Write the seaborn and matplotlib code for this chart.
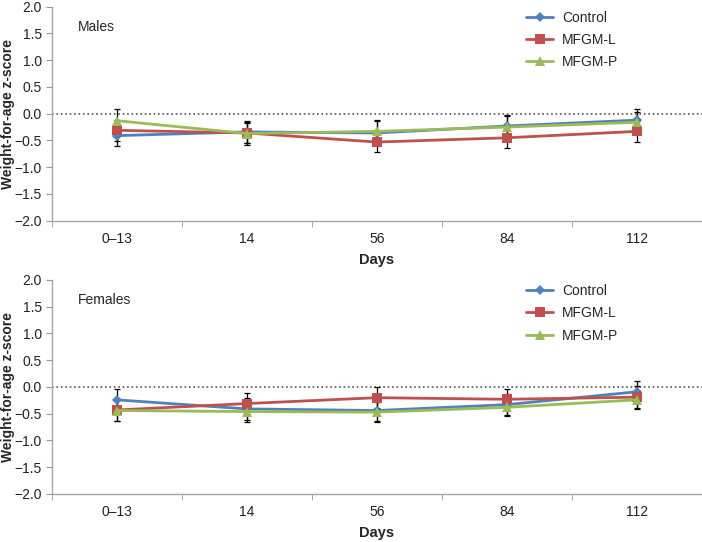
import numpy as np
import pandas as pd
import matplotlib.pyplot as plt
import seaborn as sns

sns.set_style('white')
plt.rcParams['font.family'] = ['Liberation Sans', 'DejaVu Sans']

days = ['0\u201313', '14', '56', '84', '112']
groups = ['Control', 'MFGM-L', 'MFGM-P']

# weight-for-age z-scores
males_control = [-0.41, -0.34, -0.36, -0.23, -0.12]
males_mfgm_l = [-0.31, -0.36, -0.53, -0.45, -0.33]
males_mfgm_p = [-0.13, -0.37, -0.33, -0.25, -0.16]
males_err_control = [0.20, 0.20, 0.22, 0.20, 0.20]
males_err_mfgm_l = [0.20, 0.18, 0.18, 0.20, 0.19]
males_err_mfgm_p = [0.21, 0.22, 0.21, 0.21, 0.20]

females_control = [-0.24, -0.41, -0.44, -0.33, -0.09]
females_mfgm_l = [-0.43, -0.31, -0.20, -0.23, -0.19]
females_mfgm_p = [-0.44, -0.46, -0.47, -0.38, -0.24]
females_err_control = [0.21, 0.20, 0.20, 0.20, 0.20]
females_err_mfgm_l = [0.20, 0.20, 0.20, 0.20, 0.20]
females_err_mfgm_p = [0.19, 0.20, 0.19, 0.17, 0.18]

colors = {'Control': '#4F81BD', 'MFGM-L': '#C0504D', 'MFGM-P': '#9BBB59'}
markers = ['D', 's', '^']
sizes = [5, 7, 7]


def make_frame(vals, errs):
    rows = []
    for g, v, e in zip(groups, vals, errs):
        for d, y, s in zip(days, v, e):
            rows.append({'Days': d, 'group': g, 'z': y, 'err': s})
    return pd.DataFrame(rows)


def draw_panel(ax, df, title):
    ax.axhline(0, color='#555555', ls=':', lw=1.2, zorder=1)
    x = np.arange(len(days))
    for g in groups:
        sub = df[df['group'] == g]
        ax.errorbar(x, sub['z'], yerr=sub['err'], fmt='none', ecolor='black',
                    elinewidth=0.9, capsize=2, capthick=0.9, zorder=2)
    for g, m, ms in zip(groups, markers, sizes):
        sub = df[df['group'] == g]
        sns.lineplot(data=sub, x='Days', y='z', color=colors[g], marker=m,
                     markersize=ms, markeredgewidth=0, linewidth=2.0,
                     label=g, ax=ax, sort=False, zorder=3)
    ax.set_xlim(-0.5, len(days) - 0.5)
    ax.set_ylim(-2.0, 2.0)
    ax.set_yticks(np.arange(-2.0, 2.01, 0.5))
    ax.set_yticklabels([f'{v:.1f}'.replace('-', '\u2212') for v in np.arange(-2.0, 2.01, 0.5)])
    ax.set_xticks(x)
    ax.set_xticklabels(days)
    ax.set_xticks(np.arange(-0.5, len(days), 1.0), minor=True)
    ax.tick_params(axis='x', which='major', length=0, pad=8, labelsize=10, colors='#222222')
    ax.tick_params(axis='x', which='minor', length=4, color='#999999', direction='out', bottom=True)
    ax.tick_params(axis='y', length=4, color='#999999', direction='out', left=True,
                   labelsize=10, labelcolor='#222222', pad=3)
    for s in ['top', 'right']:
        ax.spines[s].set_visible(False)
    for s in ['left', 'bottom']:
        ax.spines[s].set_color('#A6A6A6')
        ax.spines[s].set_linewidth(1.0)
    ax.set_xlabel('Days', fontsize=10.5, fontweight='bold')
    ax.xaxis.set_label_coords(0.5, -0.15)
    ax.set_ylabel('Weight-for-age z-score', fontsize=10, fontweight='bold')
    ax.yaxis.set_label_coords(-0.057, 0.5)
    ax.text(0.04, 0.905, title, transform=ax.transAxes, fontsize=10, va='center')
    ax.legend(loc='upper left', bbox_to_anchor=(0.71, 1.04), frameon=False,
              fontsize=10, handlelength=2.0, labelspacing=0.6, handletextpad=0.6)


fig = plt.figure(figsize=(7.02, 5.42), dpi=100)
ax1 = fig.add_axes([0.0736, 0.5928, 0.926, 0.3948])
ax2 = fig.add_axes([0.0736, 0.0886, 0.926, 0.3948])

draw_panel(ax1, make_frame([males_control, males_mfgm_l, males_mfgm_p],
                           [males_err_control, males_err_mfgm_l, males_err_mfgm_p]), 'Males')
draw_panel(ax2, make_frame([females_control, females_mfgm_l, females_mfgm_p],
                           [females_err_control, females_err_mfgm_l, females_err_mfgm_p]), 'Females')

fig.savefig('out.png', dpi=100)
